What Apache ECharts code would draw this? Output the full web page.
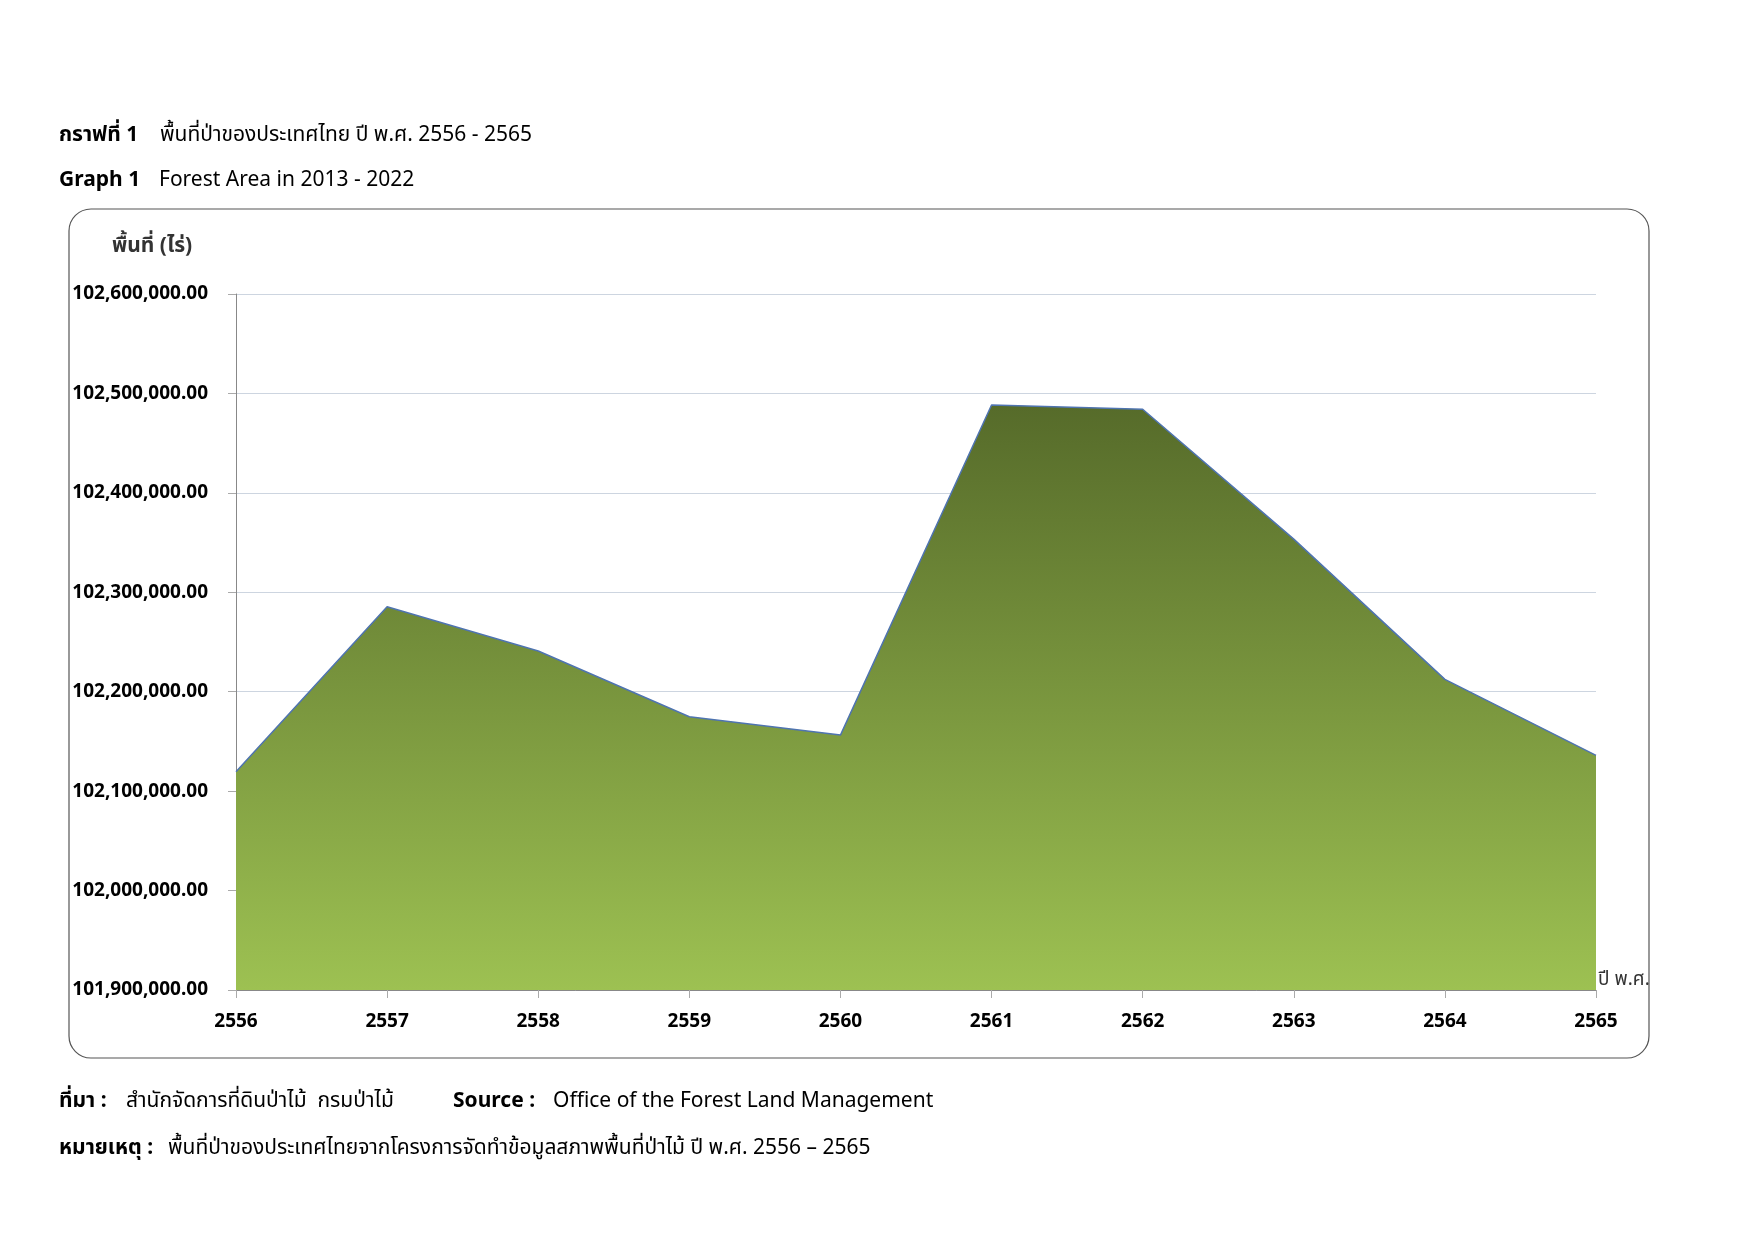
<!DOCTYPE html>
<html lang="th">
<head>
<meta charset="UTF-8">
<title>Forest Area</title>
<script src="https://cdn.jsdelivr.net/npm/echarts@6/dist/echarts.min.js"></script>
<style>
  * { margin: 0; padding: 0; box-sizing: border-box; }
  body { width: 1755px; height: 1241px; background: #fff; }
  #chart { width: 1755px; height: 1241px; }
</style>
</head>
<body>
<div id="chart"></div>
<script>
  const years = ['2556', '2557', '2558', '2559', '2560', '2561', '2562', '2563', '2564', '2565'];
  const area = [102119539.55, 102285400.62, 102240981.88, 102174805.09, 102156350.51,
                102488302.19, 102484072.71, 102353484.76, 102212434.37, 102135974.96];

  const font = '"Noto Sans", "Noto Sans Thai", "DejaVu Sans", sans-serif';
  const fmt = v => v.toLocaleString('en-US', { minimumFractionDigits: 2, maximumFractionDigits: 2 });

  const chart = echarts.init(document.getElementById('chart'));
  chart.setOption({
    animation: false,
    textStyle: { fontFamily: font },
    grid: { left: 236, right: 159, top: 294, bottom: 251 },
    graphic: [
      { type: 'rect', shape: { x: 69, y: 209, width: 1580, height: 849, r: 22 },
        style: { fill: 'none', stroke: '#555', lineWidth: 1.2 }, z: -1 },
      { type: 'text', left: 59, top: 125, style: { text: 'กราฟที่ 1', font: 'bold 21px ' + font, fill: '#000' } },
      { type: 'text', left: 160, top: 125, style: { text: 'พื้นที่ป่าของประเทศไทย ปี พ.ศ. 2556 - 2565', font: '21px ' + font, fill: '#000' } },
      { type: 'text', left: 59, top: 170, style: { text: 'Graph 1', font: 'bold 21px ' + font, fill: '#000' } },
      { type: 'text', left: 159, top: 170, style: { text: 'Forest Area in 2013 - 2022', font: '21px ' + font, fill: '#000' } },
      { type: 'text', left: 112, top: 236, style: { text: 'พื้นที่ (ไร่)', font: 'bold 21px ' + font, fill: '#333' } },
      { type: 'text', left: 1598, top: 970, style: { text: 'ปี พ.ศ.', font: '19px ' + font, fill: '#333' } },
      { type: 'text', left: 59, top: 1091, style: { text: 'ที่มา :', font: 'bold 21px ' + font, fill: '#000' } },
      { type: 'text', left: 126, top: 1091, style: { text: 'สำนักจัดการที่ดินป่าไม้  กรมป่าไม้', font: '21px ' + font, fill: '#000' } },
      { type: 'text', left: 453, top: 1091, style: { text: 'Source :', font: 'bold 21px ' + font, fill: '#000' } },
      { type: 'text', left: 553, top: 1091, style: { text: 'Office of the Forest Land Management', font: '21px ' + font, fill: '#000' } },
      { type: 'text', left: 59, top: 1138, style: { text: 'หมายเหตุ :', font: 'bold 21px ' + font, fill: '#000' } },
      { type: 'text', left: 168, top: 1138, style: { text: 'พื้นที่ป่าของประเทศไทยจากโครงการจัดทำข้อมูลสภาพพื้นที่ป่าไม้ ปี พ.ศ. 2556 – 2565', font: '21px ' + font, fill: '#000' } }
    ],
    xAxis: {
      type: 'category', data: years, boundaryGap: false,
      axisLine: { lineStyle: { color: '#888' } },
      axisTick: { show: true, length: 8, lineStyle: { color: '#aaa' } },
      axisLabel: { color: '#000', fontSize: 19, fontWeight: 'bold', margin: 22 }
    },
    yAxis: {
      type: 'value', min: 101900000, max: 102600000, interval: 100000,
      axisLine: { show: true, lineStyle: { color: '#888' } },
      axisTick: { show: true, length: 8, lineStyle: { color: '#aaa' } },
      axisLabel: { color: '#000', fontSize: 19, fontWeight: 'bold', margin: 28, formatter: fmt },
      splitLine: { lineStyle: { color: '#cdd5e0' } }
    },
    series: [{
      type: 'line', data: area, symbol: 'none',
      lineStyle: { color: '#4f74b0', width: 1.5 },
      areaStyle: {
        opacity: 1,
        origin: 'start',
        color: new echarts.graphic.LinearGradient(0, 0, 0, 1, [
          { offset: 0, color: '#566b2a' },
          { offset: 1, color: '#9dc152' }
        ])
      },
      label: {
        show: true, position: 'bottom', rotate: 90, align: 'right', verticalAlign: 'middle',
        distance: 6, color: '#1a2a4a', fontSize: 16, formatter: p => fmt(p.value)
      }
    }]
  });
</script>
</body>
</html>
